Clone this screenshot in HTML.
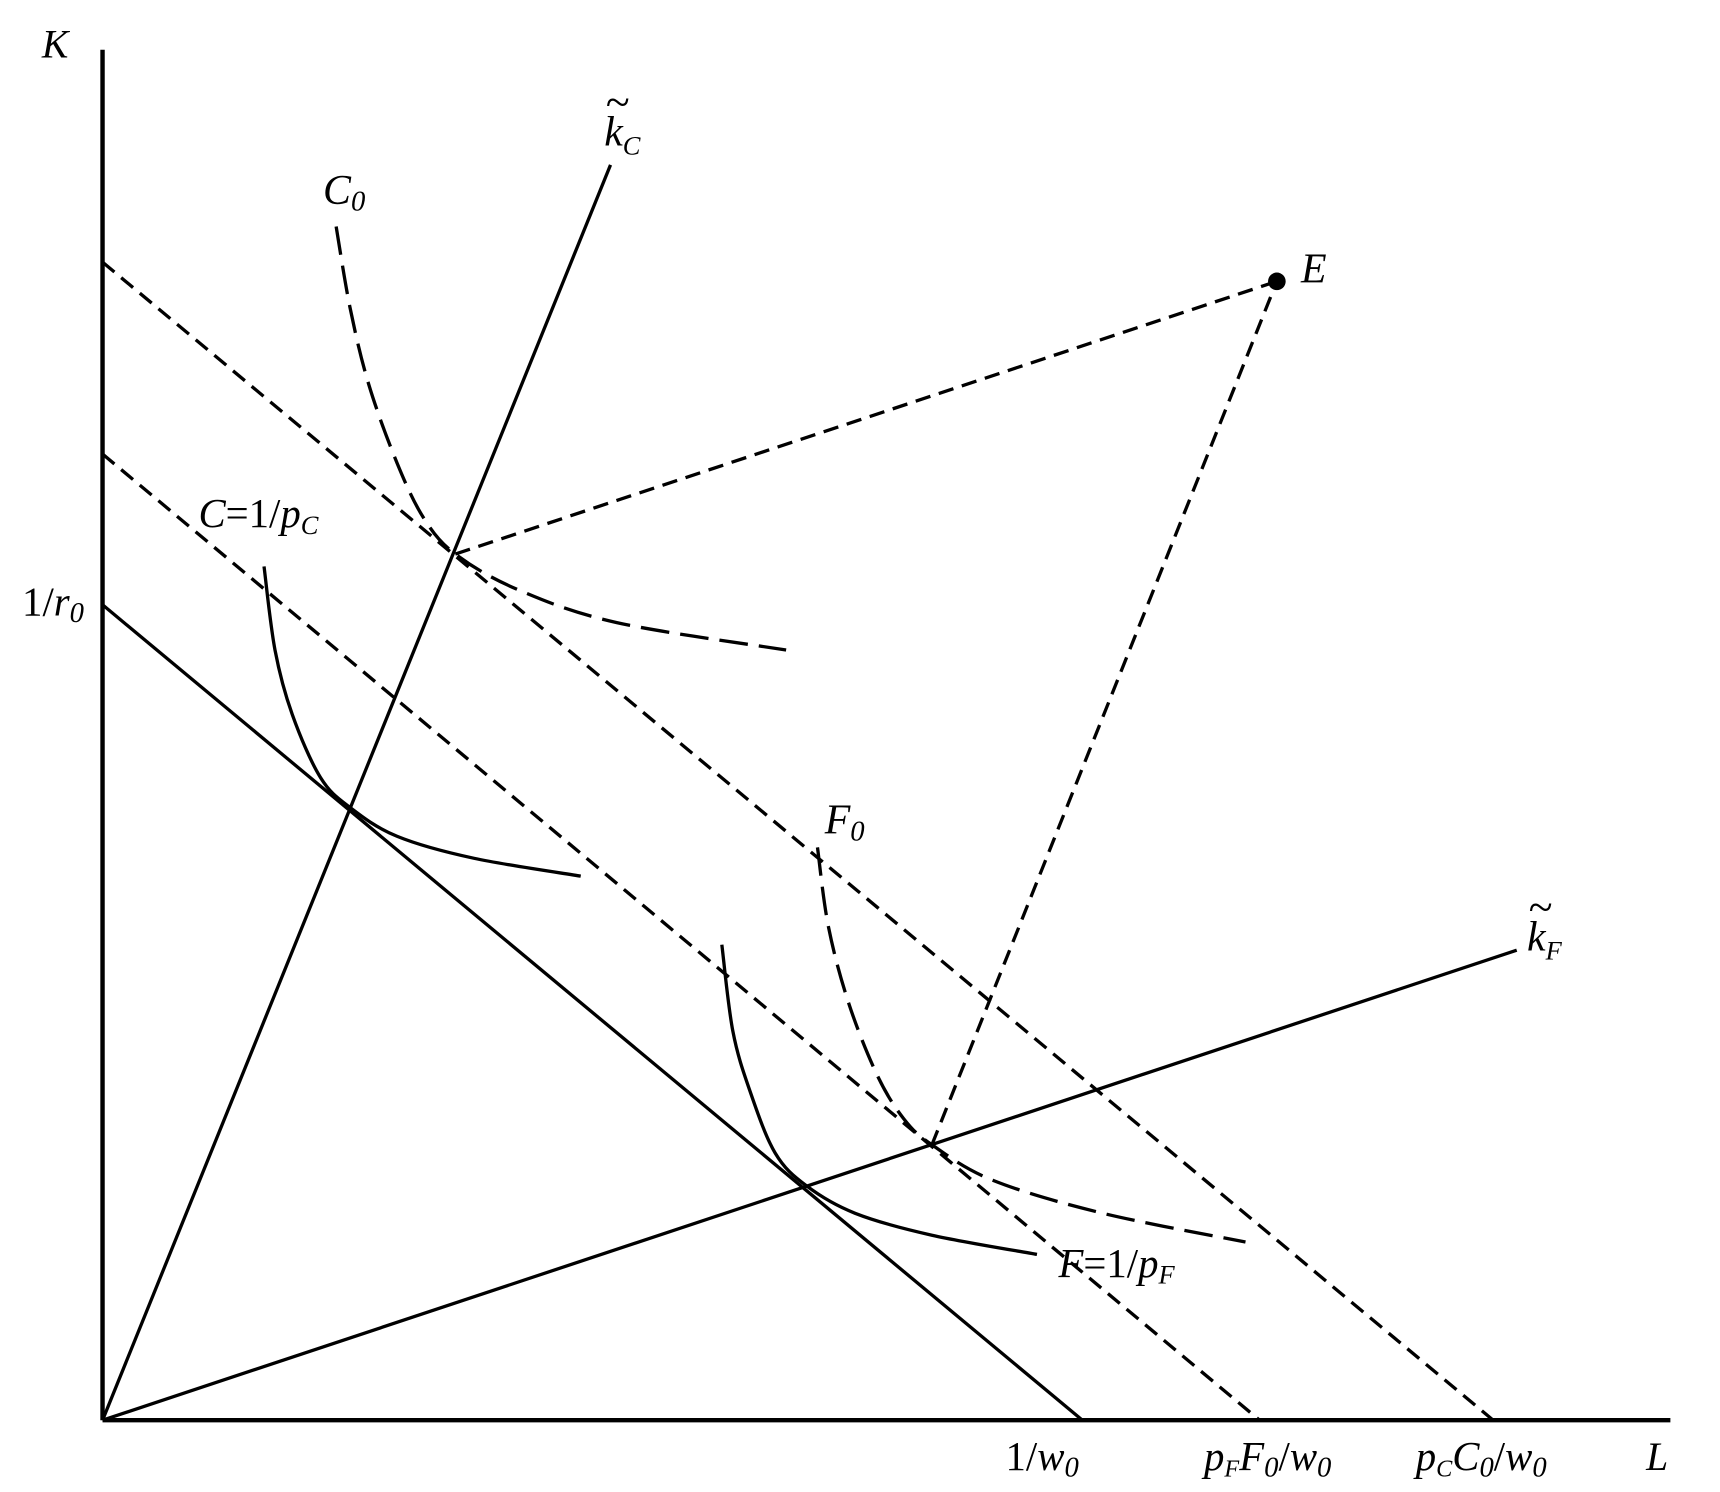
<!DOCTYPE html>
<html><head><meta charset="utf-8"><style>
html,body{margin:0;padding:0;background:#fff;}
svg{display:block;}
text{font-family:"Liberation Serif",serif;font-style:italic;fill:#000;}
</style></head><body>
<svg id="chart" width="1720" height="1492" viewBox="0 0 1560 1353" xmlns="http://www.w3.org/2000/svg">
<g id="marks"></g>
<g id="labels">
<text x="38" y="52" font-size="36">K</text>
<text x="1493" y="1333" font-size="36">L</text>
<text x="548" y="132" font-size="38">k<tspan font-size="24" dy="8">C</tspan></text>
<text x="549" y="106" font-size="40" font-style="normal">~</text>
<text x="1385" y="862" font-size="38">k<tspan font-size="24" dy="8">F</tspan></text>
<text x="1386" y="836" font-size="40" font-style="normal">~</text>
<text x="293" y="185" font-size="38">C<tspan font-size="26" dy="6">0</tspan></text>
<text x="180" y="478" font-size="37">C<tspan font-style="normal">=1/</tspan>p<tspan font-size="24" dy="6">C</tspan></text>
<text x="20" y="558" font-size="37"><tspan font-style="normal">1/</tspan>r<tspan font-size="26" dy="6">0</tspan></text>
<text x="748" y="756" font-size="38">F<tspan font-size="26" dy="6">0</tspan></text>
<text x="960" y="1158" font-size="37">F<tspan font-style="normal">=1/</tspan>p<tspan font-size="24" dy="6">F</tspan></text>
<text x="1180" y="256" font-size="38">E</text>
<text x="912" y="1333" font-size="37"><tspan font-style="normal">1/</tspan>w<tspan font-size="26" dy="6">0</tspan></text>
<text x="1092" y="1333" font-size="37">p<tspan font-size="22" dy="6">F</tspan><tspan dy="-6">F</tspan><tspan font-size="26" dy="6">0</tspan><tspan dy="-6" font-style="normal">/</tspan>w<tspan font-size="26" dy="6">0</tspan></text>
<text x="1284" y="1333" font-size="37">p<tspan font-size="22" dy="6">C</tspan><tspan dy="-6">C</tspan><tspan font-size="26" dy="6">0</tspan><tspan dy="-6" font-style="normal">/</tspan>w<tspan font-size="26" dy="6">0</tspan></text>
</g>
</svg>
<script>
// Data (L, K units; axis 0..100)
const budgetNames = ['budget-unit', 'budget-f0', 'budget-c0'];
const budgetKIntercepts = [59.5, 70.5, 84.5];
const budgetLIntercepts = [62.5, 73.8, 88.7];
const rayNames = ['ray-kc', 'ray-kf'];
const rayEndL = [32.4, 90.2];
const rayEndK = [91.6, 34.3];
const isoCUnitL = [10.3, 11.0, 12.1, 13.9, 15.8, 18.8, 23.7, 30.5];
const isoCUnitK = [62.3, 56.2, 51.5, 46.9, 44.7, 42.6, 41.0, 39.7];
const isoC0L = [14.9, 15.8, 17.0, 18.8, 20.5, 22.5, 26.5, 32.8, 43.6];
const isoC0K = [87.1, 81.1, 75.5, 69.8, 65.8, 63.2, 60.6, 58.2, 56.2];
const isoFUnitL = [39.5, 40.2, 41.3, 42.9, 44.9, 48.0, 52.9, 59.6];
const isoFUnitK = [34.7, 28.4, 24.0, 19.5, 17.1, 15.1, 13.5, 12.1];
const isoF0L = [45.6, 46.3, 47.6, 49.4, 51.1, 52.9, 56.8, 63.8, 72.9];
const isoF0K = [41.8, 36.0, 30.4, 25.2, 22.0, 20.1, 17.5, 15.1, 13.0];
const pointE = [74.9, 83.1];
const tangC0 = [22.5, 63.2];
const tangF0 = [52.9, 20.1];

const X0 = 93, Y0 = 1288, SX = 14.22, SY = 12.43;
const xs = v => X0 + v * SX;
const ys = v => Y0 - v * SY;
const NS = 'http://www.w3.org/2000/svg';
const g = document.getElementById('marks');

function line(x1, y1, x2, y2, dash, w) {
  const l = document.createElementNS(NS, 'line');
  l.setAttribute('x1', x1); l.setAttribute('y1', y1);
  l.setAttribute('x2', x2); l.setAttribute('y2', y2);
  l.setAttribute('stroke', '#000'); l.setAttribute('stroke-width', w || 3);
  if (dash) l.setAttribute('stroke-dasharray', dash);
  g.appendChild(l); return l;
}
function curve(Ls, Ks, dash) {
  const p = Ls.map((v, i) => [xs(v), ys(Ks[i])]);
  let d = 'M' + p[0][0] + ',' + p[0][1];
  for (let i = 0; i < p.length - 1; i++) {
    const p0 = p[i - 1] || p[i], p1 = p[i], p2 = p[i + 1], p3 = p[i + 2] || p2;
    const c1 = [p1[0] + (p2[0] - p0[0]) / 6, p1[1] + (p2[1] - p0[1]) / 6];
    const c2 = [p2[0] - (p3[0] - p1[0]) / 6, p2[1] - (p3[1] - p1[1]) / 6];
    d += ' C' + c1 + ' ' + c2 + ' ' + p2;
  }
  const e = document.createElementNS(NS, 'path');
  e.setAttribute('d', d); e.setAttribute('fill', 'none');
  e.setAttribute('stroke', '#000'); e.setAttribute('stroke-width', 3);
  if (dash) e.setAttribute('stroke-dasharray', dash);
  g.appendChild(e); return e;
}

let a = line(X0, 45, X0, Y0, null, 4);


a = line(X0, Y0, 1515, Y0, null, 4);



budgetNames.forEach((n, i) => {
  const el = line(xs(0), ys(budgetKIntercepts[i]), xs(budgetLIntercepts[i]), ys(0), i === 0 ? null : '14,8', 3);
  
  
});
rayNames.forEach((n, i) => {
  const el = line(xs(0), ys(0), xs(rayEndL[i]), ys(rayEndK[i]), null, 3);
  
  
});
let c = curve(isoCUnitL, isoCUnitK, null);


c = curve(isoC0L, isoC0K, '26,10');


c = curve(isoFUnitL, isoFUnitK, null);


c = curve(isoF0L, isoF0K, '26,10');



let e1 = line(xs(tangC0[0]), ys(tangC0[1]), xs(pointE[0]), ys(pointE[1]), '14,8', 3);


let e2 = line(xs(tangF0[0]), ys(tangF0[1]), xs(pointE[0]), ys(pointE[1]), '14,8', 3);


const dot = document.createElementNS(NS, 'circle');
dot.setAttribute('cx', xs(pointE[0])); dot.setAttribute('cy', ys(pointE[1]));
dot.setAttribute('r', 8); dot.setAttribute('fill', '#000');


g.appendChild(dot);
</script>
</body></html>
